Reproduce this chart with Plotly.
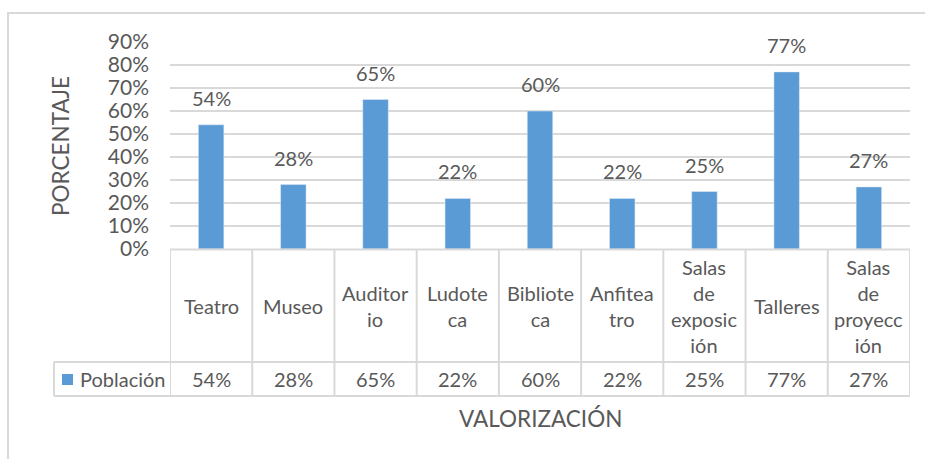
import plotly.graph_objects as go

categories = ["Teatro", "Museo", "Auditorio", "Ludoteca", "Biblioteca",
              "Anfiteatro", "Salas de exposición", "Talleres", "Salas de proyección"]
table_labels = ["Teatro", "Museo", "Auditor<br>io", "Ludote<br>ca", "Bibliote<br>ca",
                "Anfitea<br>tro", "Salas<br>de<br>exposic<br>ión", "Talleres",
                "Salas<br>de<br>proyecc<br>ión"]
values = [0.54, 0.28, 0.65, 0.22, 0.60, 0.22, 0.25, 0.77, 0.27]
series_name = "Población"
tick_vals = [0, 0.1, 0.2, 0.3, 0.4, 0.5, 0.6, 0.7, 0.8, 0.9]
tick_text = ["0%", "10%", "20%", "30%", "40%", "50%", "60%", "70%", "80%", "90%"]

BAR = "#5B9BD5"
TXT = "#595959"
GRID = "#D9D9D9"
FONT = "Lato"

W, H = 925, 459
L, R, T, B = 170, 15, 42, 210
PH = H - T - B  # plot height in px


def py(ypix):
    return (H - B - ypix) / PH


def px(xpix):
    return (xpix - L) / (W - L - R)


fig = go.Figure()
fig.add_trace(go.Bar(x=categories, y=values, marker=dict(color=BAR),
                     width=0.31, name=series_name, showlegend=False))

ann = []
shapes = []
# data labels
for c, v in zip(categories, values):
    ann.append(dict(x=c, y=v, xref="x", yref="y", text=f"{round(v*100)}%",
                    showarrow=False, yanchor="bottom", yshift=13,
                    font=dict(family=FONT, size=20, color=TXT)))

# table
y_top, y_mid, y_bot = py(249.5), py(362), py(396)
for i, (lab, v) in enumerate(zip(table_labels, values)):
    ann.append(dict(x=i, y=(y_top + y_mid) / 2, xref="x", yref="paper", text=lab,
                    showarrow=False, yanchor="middle", align="center",
                    font=dict(family=FONT, size=20, color=TXT)))
    ann.append(dict(x=i, y=(y_mid + y_bot) / 2, xref="x", yref="paper",
                    text=f"{round(v*100)}%", showarrow=False, yanchor="middle",
                    font=dict(family=FONT, size=20, color=TXT)))

line = dict(color=GRID, width=2)
for i in range(len(categories) + 1):
    shapes.append(dict(type="line", xref="x", yref="paper", x0=i - 0.5, x1=i - 0.5,
                       y0=y_top, y1=y_bot, line=line))
shapes.append(dict(type="line", xref="x", yref="paper", x0=-0.5, x1=8.5,
                   y0=y_top, y1=y_top, line=line))
shapes.append(dict(type="line", xref="paper", yref="paper", x0=px(54), x1=1,
                   y0=y_mid, y1=y_mid, line=line))
shapes.append(dict(type="line", xref="paper", yref="paper", x0=px(54), x1=1,
                   y0=y_bot, y1=y_bot, line=line))
shapes.append(dict(type="line", xref="paper", yref="paper", x0=px(54), x1=px(54),
                   y0=y_mid, y1=y_bot, line=line))
# legend key
shapes.append(dict(type="rect", xref="paper", yref="paper", x0=px(62), x1=px(73),
                   y0=py(385), y1=py(374), fillcolor=BAR, line=dict(width=0)))
ann.append(dict(x=px(78), y=(y_mid + y_bot) / 2, xref="paper", yref="paper",
                text=series_name, showarrow=False, xanchor="left", yanchor="middle",
                font=dict(family=FONT, size=20, color=TXT)))

# axis titles
ann.append(dict(x=px(540), y=py(418), xref="paper", yref="paper", text="VALORIZACIÓN",
                showarrow=False, xanchor="center", yanchor="middle",
                font=dict(family=FONT, size=22.5, color=TXT)))
ann.append(dict(x=px(60), y=py(146), xref="paper", yref="paper", text="PORCENTAJE",
                showarrow=False, textangle=-90, xanchor="center", yanchor="middle",
                font=dict(family=FONT, size=22.5, color=TXT)))

# outer chart border
shapes.append(dict(type="rect", xref="paper", yref="paper", x0=px(8), x1=px(930),
                   y0=py(470), y1=py(13), line=dict(color=GRID, width=2),
                   fillcolor="rgba(0,0,0,0)", layer="below"))

fig.update_layout(
    width=W, height=H,
    margin=dict(l=L, r=R, t=T, b=B),
    plot_bgcolor="white", paper_bgcolor="white",
    annotations=ann, shapes=shapes,
    xaxis=dict(showticklabels=False, showgrid=False, zeroline=False,
               range=[-0.5, 8.5], fixedrange=True),
    yaxis=dict(range=[0, 0.9], tickvals=tick_vals, ticktext=tick_text,
               showgrid=True, gridcolor=GRID, gridwidth=2, zeroline=False,
               ticklabelstandoff=20,
               tickfont=dict(family=FONT, size=21, color=TXT)),
)

fig.write_html("out.html", config={"displayModeBar": False},
               post_script="document.body.style.margin='0';document.body.style.overflow='hidden';")
